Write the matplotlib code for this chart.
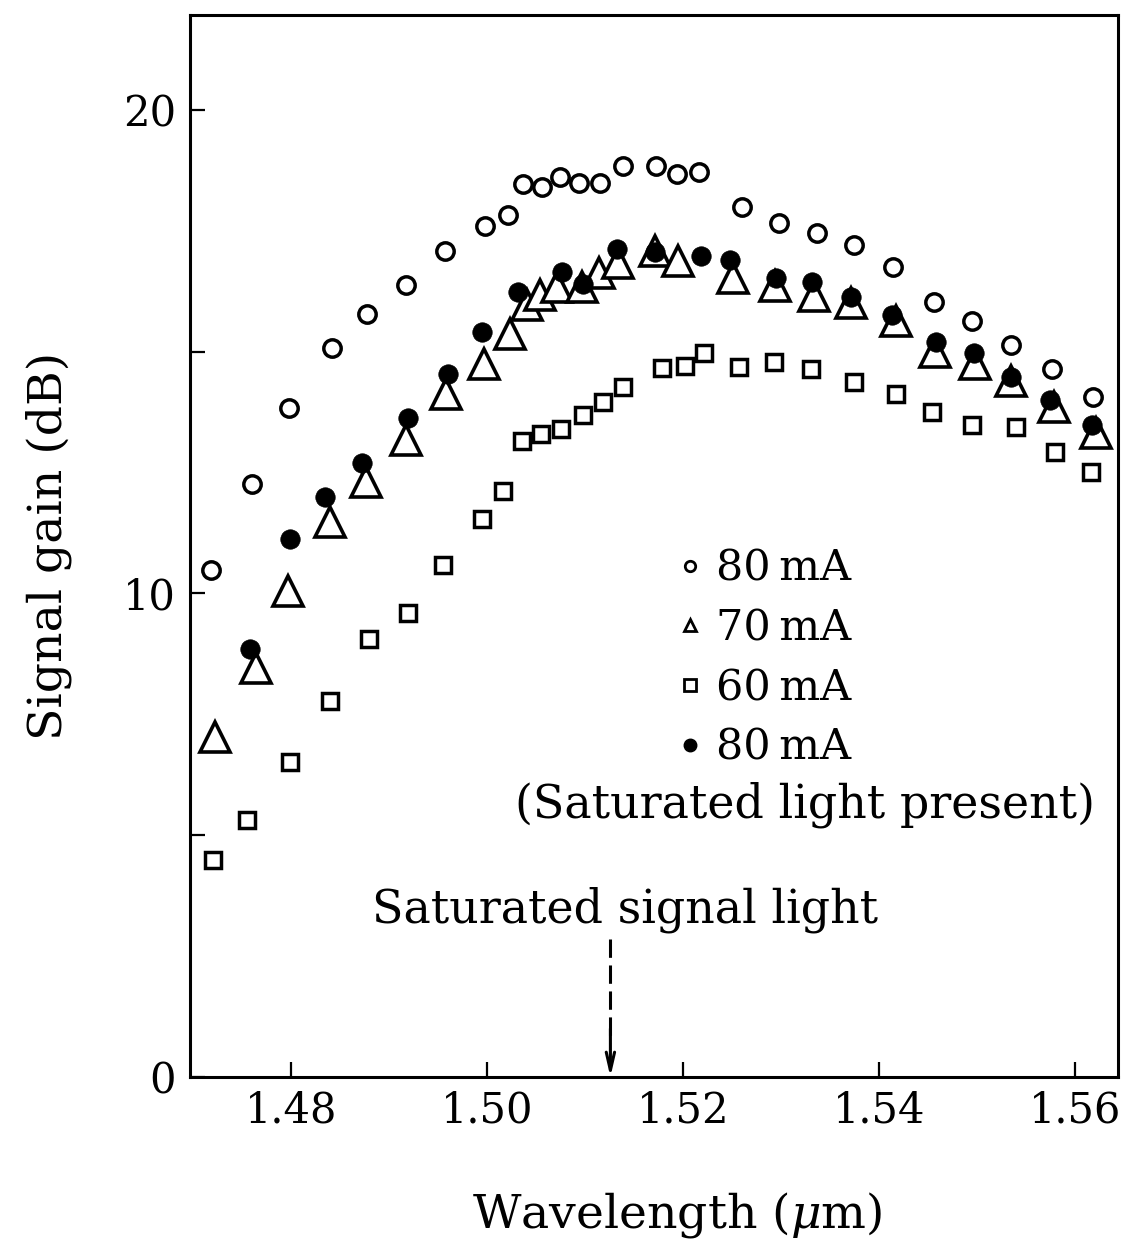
import matplotlib
matplotlib.use("Agg")
import matplotlib.pyplot as plt
from matplotlib.lines import Line2D

plt.rcParams['font.family'] = ['DejaVu Serif']
plt.rcParams['mathtext.fontset'] = 'dejavuserif'

# 80 mA (open circles)
wl_80 = [1.4718, 1.4760, 1.4798, 1.4842, 1.4878, 1.4917, 1.4957, 1.4998, 1.5021,
         1.5037, 1.5056, 1.5075, 1.5094, 1.5115, 1.5139, 1.5173, 1.5194, 1.5216,
         1.5260, 1.5298, 1.5337, 1.5375, 1.5414, 1.5456, 1.5495, 1.5535, 1.5577, 1.5618]
gain_80 = [10.49, 12.26, 13.84, 15.08, 15.78, 16.38, 17.08, 17.60, 17.83,
           18.47, 18.41, 18.61, 18.49, 18.49, 18.84, 18.84, 18.68, 18.72,
           17.99, 17.66, 17.46, 17.21, 16.75, 16.03, 15.64, 15.14, 14.64, 14.06]

# 70 mA (open triangles)
wl_70 = [1.4723, 1.4764, 1.4797, 1.4840, 1.4877, 1.4917, 1.4958, 1.4997, 1.5024,
         1.5041, 1.5054, 1.5071, 1.5097, 1.5114, 1.5134, 1.5172, 1.5195, 1.5251,
         1.5294, 1.5334, 1.5372, 1.5417, 1.5457, 1.5498, 1.5535, 1.5579, 1.5622]
gain_70 = [7.03, 8.46, 10.05, 11.48, 12.31, 13.17, 14.13, 14.75, 15.37,
           15.97, 16.17, 16.34, 16.34, 16.63, 16.84, 17.08, 16.88, 16.53,
           16.36, 16.15, 16.01, 15.64, 14.99, 14.75, 14.40, 13.86, 13.32]

# 60 mA (open squares)
wl_60 = [1.4720, 1.4755, 1.4799, 1.4840, 1.4880, 1.4919, 1.4955, 1.4995, 1.5016,
         1.5036, 1.5055, 1.5076, 1.5098, 1.5118, 1.5139, 1.5179, 1.5202, 1.5221,
         1.5257, 1.5293, 1.5331, 1.5375, 1.5417, 1.5454, 1.5495, 1.5540, 1.5580, 1.5616]
gain_60 = [4.49, 5.32, 6.51, 7.78, 9.06, 9.60, 10.59, 11.54, 12.12,
           13.15, 13.30, 13.40, 13.69, 13.96, 14.27, 14.66, 14.71, 14.97,
           14.68, 14.79, 14.64, 14.37, 14.13, 13.75, 13.49, 13.44, 12.93, 12.51]

# 80 mA with saturating light present (filled dots)
wl_80s = [1.4758, 1.4799, 1.4835, 1.4873, 1.4919, 1.4960, 1.4995, 1.5032, 1.5077,
          1.5098, 1.5133, 1.5172, 1.5218, 1.5248, 1.5295, 1.5332, 1.5372, 1.5413,
          1.5458, 1.5497, 1.5535, 1.5575, 1.5617]
gain_80s = [8.85, 11.13, 12.00, 12.70, 13.63, 14.54, 15.41, 16.24, 16.65,
            16.40, 17.13, 17.06, 16.98, 16.90, 16.53, 16.44, 16.13, 15.76,
            15.20, 14.97, 14.48, 14.00, 13.48]

sat_wl = 1.5126
xticks = [1.48, 1.50, 1.52, 1.54, 1.56]
yticks = [0, 5, 10, 15, 20]
ytick_labels = ['0', '', '10', '', '20']

fig = plt.figure(figsize=(11.25, 12.55), dpi=100)
ax = fig.add_axes([0.1689, 0.1418, 0.8249, 0.8462])

ax.plot(wl_80, gain_80, 'o', ms=12.5, mfc='white', mec='black', mew=2.5, ls='none', zorder=3)
ax.plot(wl_70, gain_70, '^', ms=21, mfc='white', mec='black', mew=2.6, ls='none', zorder=3)
ax.plot(wl_60, gain_60, 's', ms=12, mfc='white', mec='black', mew=2.5, ls='none', zorder=3)
ax.plot(wl_80s, gain_80s, 'o', ms=14, mfc='black', mec='black', mew=0.5, ls='none', zorder=4)

# saturating signal arrow
ax.plot([sat_wl, sat_wl], [2.85, 0.7], ls=(0, (6, 2.5)), color='black', lw=2.2)
ax.annotate('', xy=(sat_wl, 0), xytext=(sat_wl, 1.0),
            arrowprops=dict(arrowstyle='->,head_length=1.3,head_width=0.3',
                            color='black', lw=2.2, shrinkA=0, shrinkB=0))
ax.text(1.5141, 3.45, 'Saturated signal light', ha='center', va='center', fontsize=33)

handles = [
    Line2D([], [], marker='o', ls='none', ms=7.5, mfc='white', mec='black', mew=2),
    Line2D([], [], marker='^', ls='none', ms=9, mfc='white', mec='black', mew=2),
    Line2D([], [], marker='s', ls='none', ms=8.5, mfc='white', mec='black', mew=2),
    Line2D([], [], marker='o', ls='none', ms=9, mfc='black', mec='black'),
]
labels = ['80\u2009mA', '70\u2009mA', '60\u2009mA', '80\u2009mA']
ax.legend(handles, labels, loc='upper left', bbox_to_anchor=(0.5272, 0.4984),
          frameon=False, fontsize=31, handlelength=0.5, handletextpad=0.35,
          labelspacing=0.41, borderpad=0, borderaxespad=0, numpoints=1)
ax.text(0.350, 0.256, '(Saturated light present)', transform=ax.transAxes,
        ha='left', va='center', fontsize=33)

ax.set_xlim(1.4697, 1.5644)
ax.set_ylim(0, 21.96)
ax.set_xticks(xticks)
ax.set_xticklabels(['%.2f' % v for v in xticks])
ax.set_yticks(yticks)
ax.set_yticklabels(ytick_labels)
ax.tick_params(axis='both', direction='in', length=11, width=1.6, labelsize=30)
ax.tick_params(axis='x', pad=9)
ax.tick_params(axis='y', pad=10)
for s in ax.spines.values():
    s.set_linewidth(2.2)

ax.set_xlabel(r'Wavelength ($\mu$m)', fontsize=34)
ax.set_ylabel('Signal gain (dB)', fontsize=34)
ax.xaxis.set_label_coords(0.525, -0.106)
ax.yaxis.set_label_coords(-0.127, 0.5)

plt.savefig('out.png', dpi=100)
